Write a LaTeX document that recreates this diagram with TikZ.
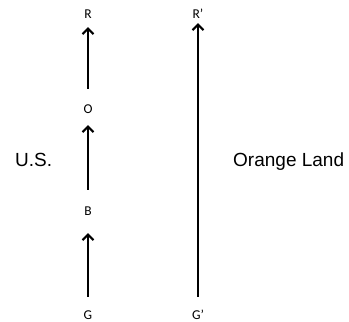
\documentclass[tikz,border=0pt]{standalone}
\usepackage{fontspec}
\setmainfont{Liberation Sans}
\newfontfamily\smallfont{Carlito}
\usetikzlibrary{arrows.meta}
\begin{document}
\begin{tikzpicture}[x=1pt,y=1pt,
  lbl/.style={font=\smallfont\fontsize{13.5}{13.5}\selectfont, inner sep=0pt, text height=8pt, text depth=0pt, anchor=center},
  big/.style={font=\fontsize{19}{19}\selectfont, inner sep=0pt, anchor=base west},
  arr/.style={line width=2.3pt, -{Straight Barb[length=5.5pt,width=11pt,line width=2pt]}}]
\useasboundingbox (0,0) rectangle (349,-322);
\node[lbl] (R) at (88,-14) {R};
\node[lbl] (O) at (88,-109) {O};
\node[lbl] (B) at (88,-211) {B};
\node[lbl] (G) at (88,-315) {G};
\node[lbl] (Rp) at (198,-14) {R’};
\node[lbl] (Gp) at (198,-315) {G’};
\node[big] (us) at (15,-166) {U.S.};
\node[big] (ol) at (233,-166) {Orange Land};
\draw[arr, shorten <=14pt, shorten >=18pt] (G) -- (B);
\draw[arr, shorten <=17pt, shorten >=12pt] (B) -- (O);
\draw[arr, shorten <=16pt, shorten >=9pt] (O) -- (R);
\draw[arr, shorten <=14pt, shorten >=5pt] (Gp) -- (Rp);
\end{tikzpicture}
\end{document}
